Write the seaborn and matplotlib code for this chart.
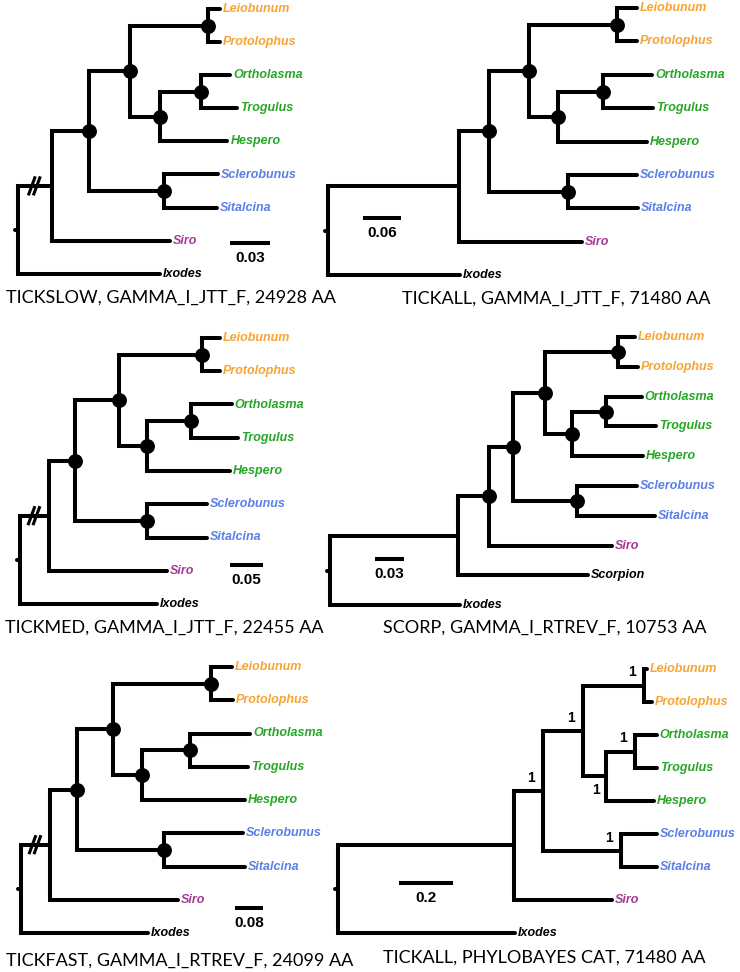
import numpy as np
import pandas as pd
import seaborn as sns
import matplotlib.pyplot as plt

W, H = 740, 972

# taxa, top to bottom
TIPS = ["Leiobunum", "Protolophus", "Ortholasma", "Trogulus", "Hespero",
        "Sclerobunus", "Sitalcina", "Siro", "Ixodes"]
TIPS_SCORP = ["Leiobunum", "Protolophus", "Ortholasma", "Trogulus", "Hespero",
              "Sclerobunus", "Sitalcina", "Siro", "Scorpion", "Ixodes"]
TIP_COLORS = {"Leiobunum": "#f7a433", "Protolophus": "#f7a433",
              "Ortholasma": "#27a627", "Trogulus": "#27a627", "Hespero": "#27a627",
              "Sclerobunus": "#5b7fe6", "Sitalcina": "#5b7fe6",
              "Siro": "#a33a95", "Scorpion": "black", "Ixodes": "black"}

# topology (first child drawn on top)
CLADES = {
    "Eupnoi": ["Leiobunum", "Protolophus"],
    "Troguloidea": ["Ortholasma", "Trogulus"],
    "Dyspnoi": ["Troguloidea", "Hespero"],
    "Palpatores": ["Eupnoi", "Dyspnoi"],
    "Laniatores": ["Sclerobunus", "Sitalcina"],
    "Phalangida": ["Palpatores", "Laniatores"],
    "Opiliones": ["Phalangida", "Siro"],
    "root": ["Opiliones", "Ixodes"],
}
CLADES_SCORP = dict(CLADES, OpilScorp=["Opiliones", "Scorpion"], root=["OpilScorp", "Ixodes"])

NODES = ["Opiliones", "Phalangida", "Palpatores", "Eupnoi", "Dyspnoi", "Troguloidea", "Laniatores"]
NODES_SCORP = ["OpilScorp"] + NODES
SUPPORTED = ["Phalangida", "Palpatores", "Eupnoi", "Dyspnoi", "Troguloidea", "Laniatores"]
SUPPORTED_SCORP = ["Opiliones"] + SUPPORTED

# depth from root (substitutions / site)
tickslow_nodes = [0.0255, 0.053, 0.084, 0.1425, 0.1065, 0.137, 0.1095]
tickslow_tips = [0.1515, 0.1515, 0.159, 0.164, 0.157, 0.150, 0.149, 0.114, 0.1065]

tickall_nodes = [0.207, 0.254, 0.3175, 0.4565, 0.363, 0.434, 0.379]
tickall_tips = [0.488, 0.488, 0.512, 0.513, 0.504, 0.488, 0.490, 0.401, 0.2085]

tickmed_nodes = [0.044, 0.0835, 0.150, 0.276, 0.192, 0.259, 0.192]
tickmed_tips = [0.303, 0.303, 0.321, 0.330, 0.318, 0.283, 0.283, 0.223, 0.2075]

scorp_nodes = [0.132, 0.1645, 0.189, 0.222, 0.298, 0.250, 0.286, 0.255]
scorp_tips = [0.315, 0.3185, 0.3225, 0.337, 0.324, 0.3175, 0.336, 0.2915, 0.267, 0.1345]

tickfast_nodes = [0.083, 0.160, 0.263, 0.543, 0.346, 0.483, 0.409]
tickfast_tips = [0.603, 0.606, 0.654, 0.649, 0.640, 0.634, 0.640, 0.449, 0.363]

pb_nodes = [0.652, 0.759, 0.907, 1.133, 0.993, 1.100, 1.048]
pb_tips = [1.144, 1.163, 1.181, 1.181, 1.170, 1.181, 1.181, 1.015, 0.656]
pb_support = [1, 1, 1, 1, 1, 1]  # posterior probs for SUPPORTED

TITLES = ["TICKSLOW, GAMMA_I_JTT_F, 24928 AA", "TICKALL, GAMMA_I_JTT_F, 71480 AA",
          "TICKMED, GAMMA_I_JTT_F, 22455 AA", "SCORP, GAMMA_I_RTREV_F, 10753 AA",
          "TICKFAST, GAMMA_I_RTREV_F, 24099 AA", "TICKALL, PHYLOBAYES CAT, 71480 AA"]
SCALES = [0.03, 0.06, 0.05, 0.03, 0.08, 0.2]

PANELS = [
    (CLADES, NODES, TIPS, tickslow_nodes, tickslow_tips, SUPPORTED, True),
    (CLADES, NODES, TIPS, tickall_nodes, tickall_tips, SUPPORTED, False),
    (CLADES, NODES, TIPS, tickmed_nodes, tickmed_tips, SUPPORTED, True),
    (CLADES_SCORP, NODES_SCORP, TIPS_SCORP, scorp_nodes, scorp_tips, SUPPORTED_SCORP, False),
    (CLADES, NODES, TIPS, tickfast_nodes, tickfast_tips, SUPPORTED, True),
    (CLADES, NODES, TIPS, pb_nodes, pb_tips, None, False),
]

# layout in pixels: root x, first tip y, tip spacing, scale bar (left, y, length), title (x, y)
LAYOUT = [
    dict(root=18, top=9, step=33.1, bar=(230, 243, 40), title=(6, 298)),
    dict(root=328, top=8, step=33.4, bar=(363, 218, 38), title=(402, 299)),
    dict(root=20, top=338, step=33.25, bar=(230, 565, 33), title=(5, 628)),
    dict(root=330, top=337, step=29.8, bar=(375, 559, 29), title=(383, 628)),
    dict(root=21, top=667, step=33.25, bar=(235, 908, 28), title=(6, 961)),
    dict(root=338, top=669, step=33.0, bar=(399, 883, 54), title=(383, 958)),
]
LABEL_OFFSETS = {"Dyspnoi": (-10, 14)}

sns.set_theme(style="white")
plt.rcParams["font.family"] = ["Liberation Sans", "DejaVu Sans"]
plt.rcParams["lines.solid_joinstyle"] = "miter"

fig = plt.figure(figsize=(W / 100, H / 100), dpi=100)
LW = 2.9

for i, (clades, nodes, tips, node_d, tip_d, supported, broken) in enumerate(PANELS):
    lay = LAYOUT[i]
    ppu = lay["bar"][2] / SCALES[i]
    step = lay["step"]
    ax = fig.add_axes([0, 0, 1, 1])
    ax.axis("off")

    depth = {"root": 0.0}
    depth.update(zip(nodes, node_d))
    depth.update(zip(tips, tip_d))
    ypos = {t: k for k, t in enumerate(tips)}

    def gety(n):
        if n not in ypos:
            ypos[n] = np.mean([gety(c) for c in clades[n]])
        return ypos[n]
    gety("root")

    rows = []
    for parent, kids in clades.items():
        for c in kids:
            seg = f"{parent}-{c}"
            rows += [(seg, depth[parent], ypos[parent]),
                     (seg, depth[parent], ypos[c]),
                     (seg, depth[c], ypos[c])]
    # small root stub
    rows += [("stub", -3 / ppu, ypos["root"]), ("stub", 0.0, ypos["root"])]
    segs = pd.DataFrame(rows, columns=["seg", "x", "y"])
    sns.lineplot(data=segs, x="x", y="y", units="seg", estimator=None, sort=False,
                 color="black", linewidth=LW, legend=False, ax=ax)

    if supported is not None:
        sns.scatterplot(x=[depth[n] for n in supported], y=[ypos[n] for n in supported],
                        s=115, color="black", linewidth=0, zorder=4, ax=ax)
    else:
        for n, v in zip(SUPPORTED, pb_support):
            dx, dy = LABEL_OFFSETS.get(n, (-12, -13))
            ax.text(depth[n] + dx / ppu, ypos[n] + dy / step, str(v), ha="center", va="center",
                    fontsize=10, fontweight="bold", color="black")

    # tip labels
    for t in tips:
        ax.text(depth[t] + 3 / ppu, ypos[t], t, ha="left", va="center", fontsize=9,
                fontweight="bold", fontstyle="italic", color=TIP_COLORS[t])

    # break marks on the shortened branch
    if broken:
        bx = depth["Opiliones"] * 0.48
        by = ypos["Opiliones"]
        for off in (-2.5, 2.5):
            ax.plot([bx + (off - 3.5) / ppu, bx + (off + 3.5) / ppu],
                    [by + 9.5 / step, by - 9.5 / step], color="black", lw=2.2,
                    solid_capstyle="butt")

    # scale bar
    bl, by_px, blen = lay["bar"]
    x0 = (bl - lay["root"]) / ppu
    yb = (by_px - lay["top"]) / step
    ax.plot([x0, x0 + SCALES[i]], [yb, yb], color="black", lw=LW, solid_capstyle="butt")
    ax.text(x0 + SCALES[i] / 2, yb + 15 / step, f"{SCALES[i]:g}", ha="center", va="center",
            fontsize=11, fontweight="bold", color="black")

    ax.set_xlim(-lay["root"] / ppu, (W - lay["root"]) / ppu)
    ax.set_ylim((H - lay["top"]) / step, -lay["top"] / step)

    tx, ty = lay["title"]
    fig.text(tx / W, 1 - ty / H, TITLES[i], ha="left", va="center", fontsize=13,
             family=["Lato", "DejaVu Sans"], color="black")

fig.savefig("out.png", dpi=100)
